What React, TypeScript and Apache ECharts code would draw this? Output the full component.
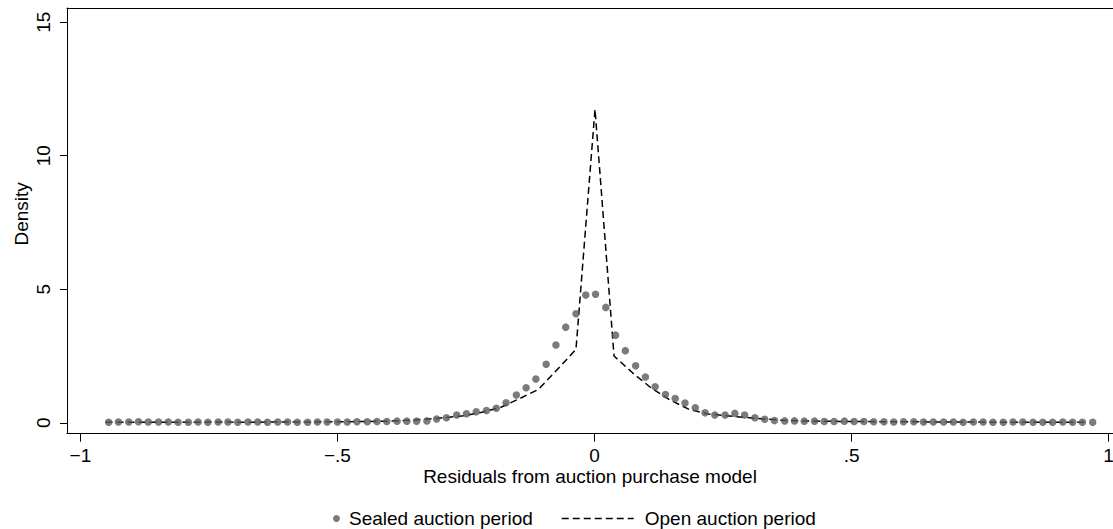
import React, { useEffect, useRef } from "react";
import * as echarts from "echarts";

const sealedX = [
  -0.945, -0.926, -0.906, -0.887, -0.868, -0.848, -0.829, -0.81, -0.79, -0.771,
  -0.752, -0.732, -0.713, -0.694, -0.674, -0.655, -0.636, -0.616, -0.597, -0.578,
  -0.558, -0.539, -0.52, -0.5, -0.481, -0.462, -0.442, -0.423, -0.404, -0.384,
  -0.365, -0.346, -0.326, -0.307, -0.288, -0.268, -0.249, -0.23, -0.21, -0.191,
  -0.172, -0.152, -0.133, -0.114, -0.094, -0.075, -0.056, -0.036, -0.017, 0.002,
  0.022, 0.041, 0.06, 0.08, 0.099, 0.118, 0.138, 0.157, 0.176, 0.196,
  0.215, 0.234, 0.254, 0.273, 0.292, 0.312, 0.331, 0.35, 0.37, 0.389,
  0.408, 0.428, 0.447, 0.466, 0.486, 0.505, 0.524, 0.543, 0.563, 0.582,
  0.601, 0.621, 0.64, 0.659, 0.679, 0.698, 0.717, 0.737, 0.756, 0.775,
  0.795, 0.814, 0.833, 0.853, 0.872, 0.891, 0.911, 0.93, 0.949, 0.969,
];
const sealedY = [
  0.02, 0.03, 0.03, 0.04, 0.03, 0.03, 0.03, 0.02, 0.02, 0.03,
  0.02, 0.03, 0.03, 0.02, 0.03, 0.03, 0.02, 0.03, 0.03, 0.02,
  0.02, 0.03, 0.03, 0.03, 0.03, 0.04, 0.04, 0.05, 0.05, 0.06,
  0.06, 0.06, 0.07, 0.14, 0.19, 0.29, 0.34, 0.41, 0.46, 0.54,
  0.75, 1.04, 1.31, 1.64, 2.19, 2.91, 3.58, 4.08, 4.78, 4.81,
  4.32, 3.28, 2.7, 2.13, 1.71, 1.35, 1.06, 0.91, 0.74, 0.56,
  0.37, 0.29, 0.29, 0.35, 0.29, 0.19, 0.13, 0.08, 0.07, 0.07,
  0.06, 0.06, 0.05, 0.05, 0.06, 0.05, 0.05, 0.04, 0.04, 0.03,
  0.04, 0.04, 0.03, 0.03, 0.03, 0.03, 0.02, 0.03, 0.03, 0.02,
  0.02, 0.03, 0.03, 0.02, 0.02, 0.02, 0.03, 0.02, 0.02, 0.02,
];

const openX = [
  -0.951, -0.914, -0.877, -0.841, -0.804, -0.768, -0.731, -0.694, -0.658, -0.621,
  -0.585, -0.548, -0.511, -0.475, -0.438, -0.402, -0.365, -0.328, -0.292, -0.255,
  -0.219, -0.182, -0.145, -0.109, -0.072, -0.036, 0.001, 0.038, 0.074, 0.111,
  0.147, 0.184, 0.221, 0.257, 0.294, 0.33, 0.367, 0.404, 0.44, 0.477,
  0.513, 0.55, 0.587, 0.623, 0.66, 0.696, 0.733, 0.77, 0.806, 0.843,
  0.879, 0.916, 0.953,
];
const openY = [
  0.02, 0.02, 0.02, 0.02, 0.02, 0.02, 0.03, 0.02, 0.02, 0.03,
  0.03, 0.03, 0.04, 0.04, 0.05, 0.06, 0.09, 0.13, 0.19, 0.26,
  0.39, 0.58, 0.91, 1.25, 2.0, 2.75, 11.74, 2.5, 1.87, 1.29,
  0.85, 0.5, 0.33, 0.26, 0.2, 0.14, 0.09, 0.07, 0.06, 0.05,
  0.05, 0.04, 0.04, 0.04, 0.03, 0.03, 0.03, 0.02, 0.02, 0.02,
  0.02, 0.02, 0.02,
];

const xTicks = [-1, -0.5, 0, 0.5, 1];
const yTicks = [0, 5, 10, 15];

const seriesNames = ["Sealed auction period", "Open auction period"];
const xTitle = "Residuals from auction purchase model";
const yTitle = "Density";

const FONT = "Liberation Sans, Arial, Helvetica, sans-serif";
const FS = 19;

function fmtX(v: number): string {
  if (v === 0) return "0";
  const s = Math.abs(v).toString().replace(/^0\./, ".");
  return (v < 0 ? "\u2212" : "") + s;
}

export default function App() {
  const ref = useRef<HTMLDivElement>(null);
  useEffect(() => {
    document.body.style.margin = "0";
    if (!ref.current) return;
    const chart = echarts.init(ref.current, undefined, { renderer: "svg" });
    const X_MIN = -1.026;
    const X_MAX = 1.0085;
    const Y_MIN = -0.41;
    const Y_MAX = 15.53;
    chart.setOption({
      animation: false,
      backgroundColor: "#ffffff",
      textStyle: { fontFamily: FONT },
      grid: {
        left: 67,
        top: 8,
        right: 0,
        bottom: 95.3,
        containLabel: false,
        outerBoundsMode: "none",
      },
      xAxis: [
        {
          type: "value",
          min: X_MIN,
          max: X_MAX,
          position: "bottom",
          name: xTitle,
          nameLocation: "middle",
          nameGap: 33,
          nameMoveOverlap: false,
          nameTextStyle: { fontFamily: FONT, fontSize: FS, color: "#000" },
          axisLine: { show: true, onZero: false, lineStyle: { color: "#000", width: 1 } },
          axisTick: { show: true, length: 8, customValues: xTicks, lineStyle: { color: "#000" } },
          axisLabel: {
            customValues: xTicks,
            formatter: (v: number) => fmtX(v),
            margin: 12,
            fontFamily: FONT,
            fontSize: FS,
            color: "#000",
          },
          splitLine: { show: false },
        },
        {
          type: "value",
          min: X_MIN,
          max: X_MAX,
          position: "top",
          axisLine: { show: true, onZero: false, lineStyle: { color: "#000", width: 1 } },
          axisTick: { show: false },
          axisLabel: { show: false },
          splitLine: { show: false },
        },
      ],
      yAxis: {
        type: "value",
        min: Y_MIN,
        max: Y_MAX,
        name: yTitle,
        nameLocation: "middle",
        nameGap: 36,
        nameMoveOverlap: false,
        nameTextStyle: { fontFamily: FONT, fontSize: FS, color: "#000", padding: [0, 0, 0, 14] },
        axisLine: { show: true, onZero: false, lineStyle: { color: "#000", width: 1 } },
        axisTick: { show: true, length: 7, customValues: yTicks, lineStyle: { color: "#000" } },
        axisLabel: {
          customValues: yTicks,
          rotate: 90,
          margin: 14,
          fontFamily: FONT,
          fontSize: FS,
          color: "#000",
        },
        splitLine: { show: false },
      },
      legend: [
        {
          data: [seriesNames[0]],
          left: 328,
          top: 504,
          itemWidth: 7,
          itemHeight: 7,
          textStyle: { fontFamily: FONT, fontSize: FS, color: "#000", padding: [0, 0, 0, 4] },
          selectedMode: false,
        },
        {
          data: [seriesNames[1]],
          left: 556,
          top: 504,
          itemWidth: 72,
          itemHeight: 10,
          itemStyle: { opacity: 0 },
          lineStyle: { opacity: 1, color: "#000", width: 1.5, type: [7, 4] },
          textStyle: { fontFamily: FONT, fontSize: FS, color: "#000", padding: [0, 0, 0, 6] },
          selectedMode: false,
        },
      ],
      series: [
        {
          name: seriesNames[1],
          type: "line",
          data: openX.map((x, i) => [x, openY[i]]),
          symbol: "none",
          lineStyle: { color: "#000", width: 1.5, type: [7, 4] },
          itemStyle: { color: "#000" },
          z: 2,
        },
        {
          name: seriesNames[0],
          type: "scatter",
          data: sealedX.map((x, i) => [x, sealedY[i]]),
          symbol: "circle",
          symbolSize: 7.5,
          itemStyle: { color: "#5a5a5a" },
          z: 3,
        },
      ],
    });
    return () => chart.dispose();
  }, []);
  return <div ref={ref} style={{ width: 1113, height: 529 }} />;
}
